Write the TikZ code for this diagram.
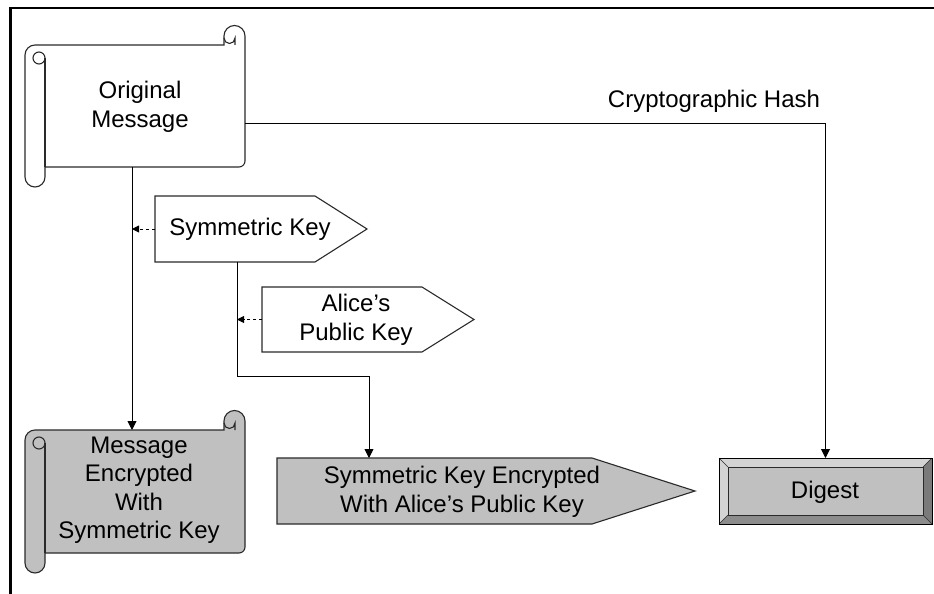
\documentclass[tikz,border=0pt]{standalone}
\usepackage{fontspec}
\setmainfont{Liberation Sans}
\usetikzlibrary{arrows.meta,calc}

\definecolor{boxgray}{HTML}{C0C0C0}
\definecolor{bevlight}{HTML}{D4D4D4}
\definecolor{bevmid}{HTML}{8C8C8C}
\definecolor{bevdark}{HTML}{7A7A7A}
\definecolor{edge}{HTML}{2A2A2A}

\tikzset{
  outline/.style={draw=edge, line width=1.1pt},
  lbl/.style={font=\fontsize{24}{28.5}\selectfont, align=center, inner sep=0pt, text=black},
  anchorbox/.style={inner sep=0pt, outer sep=0pt, draw=none},
  arr/.style={draw=black, line width=0.9pt, -{Triangle[length=9pt,width=9pt]}},
  dasharr/.style={draw=black, line width=0.9pt, dash pattern=on 3pt off 3pt,
                  -{Triangle[length=7pt,width=7pt]}},
}

% horizontal scroll: #1 left, #2 top, #3 right, #4 bottom (y grows downward), #5 fill
\newcommand\scrollshape[5]{%
  \filldraw[outline, fill=#5]
    (#1+20,#4) -- (#1+20,#4+10) arc[start angle=0, end angle=180, radius=10]
    -- (#1,#2+10) arc[start angle=180, end angle=270, radius=10]
    -- (#3-21,#2) -- (#3-21,#2-9) arc[start angle=180, end angle=360, radius=10.5]
    -- (#3,#4-6) arc[start angle=0, end angle=90, radius=6]
    -- cycle;
  % curl at the top of the left roll
  \draw[outline] (#1+20,#4) -- (#1+20,#2+13);
  \draw[outline] (#1+14,#2+13) circle[radius=6];
  % curl at the top right
  \draw[outline] (#3-21,#2-7) arc[start angle=180, end angle=0, radius=5.5] -- (#3-10,#2);
}

\begin{document}
\begin{tikzpicture}[x=1pt, y=-1pt]
  \useasboundingbox (0,0) rectangle (934,594);
  \fill[white] (0,0) rectangle (934,594);

  % frame on the top and the left
  \draw[line width=2.6pt, black] (10.5,594) -- (10.5,8) -- (934,8);

  % ---- scrolls ----
  \scrollshape{25}{45}{245}{167}{white}
  \node[lbl] (om) at (140,107) {Original\\Message};

  \scrollshape{25}{430}{245}{553}{boxgray}
  \node[lbl] (me) at (139,490) {Message\\Encrypted\\With\\Symmetric Key};

  \coordinate (omB) at (132,167);
  \coordinate (omR) at (245,123);
  \coordinate (meT) at (132,430);

  % ---- key shapes ----
  \node[anchorbox, minimum width=160pt, minimum height=66pt] (skbox) at (235,229) {};
  \filldraw[outline, fill=white] (skbox.north west) -- (skbox.north east)
    -- ($(skbox.east)+(52,0)$) -- (skbox.south east) -- (skbox.south west) -- cycle;
  \node[lbl] (sk) at (250,229) {Symmetric Key};

  \node[anchorbox, minimum width=160pt, minimum height=65pt] (akbox) at (342,319.5) {};
  \filldraw[outline, fill=white] (akbox.north west) -- (akbox.north east)
    -- ($(akbox.east)+(52,0)$) -- (akbox.south east) -- (akbox.south west) -- cycle;
  \node[lbl] (ak) at (356,320) {Alice’s\\Public Key};

  \node[anchorbox, minimum width=315pt, minimum height=66pt] (skebox) at (434.5,491) {};
  \filldraw[outline, fill=boxgray] (skebox.north west) -- (skebox.north east)
    -- ($(skebox.east)+(103,0)$) -- (skebox.south east) -- (skebox.south west) -- cycle;
  \node[lbl] (ske) at (462,492) {Symmetric Key Encrypted\\With Alice’s Public Key};

  % ---- digest button ----
  \node[anchorbox, minimum width=213pt, minimum height=66pt] (dg) at (825.5,491) {};
  \fill[boxgray] (728,467) rectangle (923,515);
  \fill[bevlight] (719,458) -- (932,458) -- (923,467) -- (728,467) -- cycle;
  \fill[bevlight] (719,458) -- (728,467) -- (728,515) -- (719,524) -- cycle;
  \fill[bevdark] (932,458) -- (932,524) -- (923,515) -- (923,467) -- cycle;
  \fill[bevmid] (719,524) -- (932,524) -- (923,515) -- (728,515) -- cycle;
  \draw[edge, line width=0.6pt] (728,467) rectangle (923,515);
  \draw[edge, line width=0.6pt] (719,458) -- (728,467) (932,458) -- (923,467)
    (719,524) -- (728,515) (932,524) -- (923,515);
  \draw[draw=black, line width=1pt] (dg.north west) rectangle (dg.south east);
  \node[lbl] (dgt) at (825,492) {Digest};

  % ---- connectors ----
  \draw[arr] (omB) -- (meT);
  \draw[arr] (omR) -| (dg.north);
  \node[lbl] (hash) at (714,101) {Cryptographic Hash};

  \draw[dasharr] (skbox.west) -- (skbox.west -| omB);

  \coordinate (skOut) at (237,262);
  \coordinate (bend) at (237,376);
  \coordinate (skeIn) at (369,458);
  \draw[arr] (skOut) -- (bend) -| (skeIn);

  \draw[dasharr] (akbox.west) -- (akbox.west -| skOut);
\end{tikzpicture}
\end{document}
